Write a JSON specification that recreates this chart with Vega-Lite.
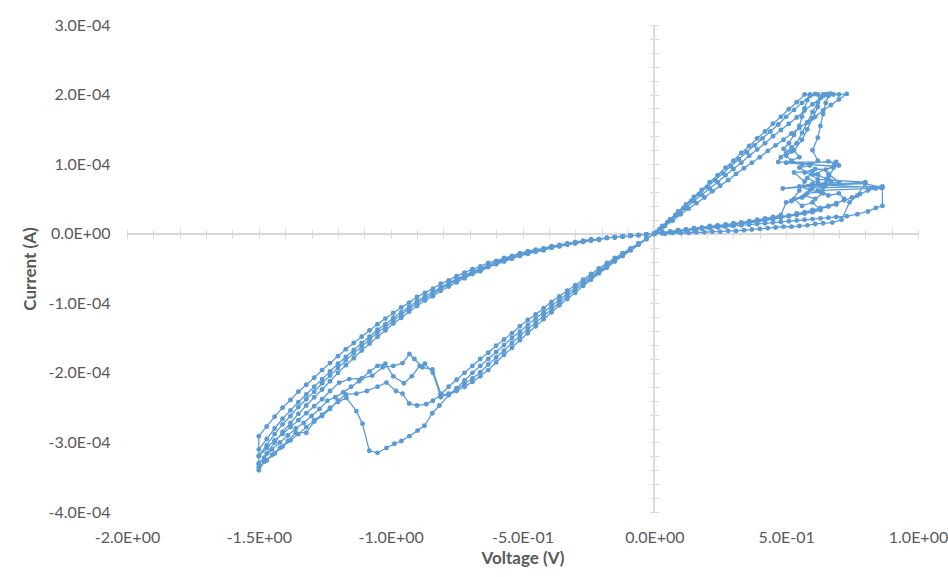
{
"$schema":"https://vega.github.io/schema/vega-lite/v6.json",
"width":791,"height":487,
"autosize":{"type":"none"},
"padding":{"left":127,"top":25,"right":30,"bottom":65},
"background":"#ffffff",
"config":{"view":{"stroke":null},"font":"Lato"},
"data":{"values":[
{"v":0,"i":0},{"v":0.03,"i":0.01e-4},{"v":0.06,"i":0.02e-4},{"v":0.09,"i":0.035e-4},{"v":0.12,"i":0.05e-4},{"v":0.15,"i":0.06e-4},{"v":0.18,"i":0.07e-4},{"v":0.21,"i":0.08e-4},{"v":0.24,"i":0.09e-4},{"v":0.27,"i":0.10e-4},{"v":0.30,"i":0.11e-4},{"v":0.33,"i":0.12e-4},{"v":0.36,"i":0.13e-4},{"v":0.39,"i":0.14e-4},{"v":0.42,"i":0.15e-4},{"v":0.45,"i":0.16e-4},{"v":0.48,"i":0.17e-4},{"v":0.51,"i":0.18e-4},{"v":0.54,"i":0.19e-4},{"v":0.57,"i":0.20e-4},{"v":0.60,"i":0.21e-4},{"v":0.63,"i":0.22e-4},{"v":0.66,"i":0.23e-4},{"v":0.69,"i":0.24e-4},{"v":0.73,"i":0.25e-4},{"v":0.77,"i":0.28e-4},{"v":0.81,"i":0.32e-4},{"v":0.84,"i":0.37e-4},{"v":0.865,"i":0.40e-4},{"v":0.865,"i":0.66e-4},{"v":0.80,"i":0.72e-4},{"v":0.77,"i":0.55e-4},{"v":0.74,"i":0.45e-4},{"v":0.71,"i":0.20e-4},{"v":0.675,"i":0.16e-4},{"v":0.64,"i":0.15e-4},{"v":0.61,"i":0.14e-4},{"v":0.58,"i":0.12e-4},{"v":0.55,"i":0.11e-4},{"v":0.52,"i":0.10e-4},{"v":0.49,"i":0.10e-4},{"v":0.46,"i":0.09e-4},{"v":0.43,"i":0.08e-4},{"v":0.40,"i":0.07e-4},{"v":0.37,"i":0.06e-4},{"v":0.34,"i":0.05e-4},{"v":0.31,"i":0.04e-4},{"v":0.28,"i":0.04e-4},{"v":0.25,"i":0.03e-4},{"v":0.22,"i":0.03e-4},{"v":0.19,"i":0.02e-4},{"v":0.16,"i":0.02e-4},{"v":0.13,"i":0.01e-4},{"v":0.10,"i":0.01e-4},{"v":0.07,"i":0.01e-4},{"v":0.04,"i":0},{"v":0,"i":0},
{"v":0.03,"i":0.01e-4},{"v":0.06,"i":0.03e-4},{"v":0.09,"i":0.05e-4},{"v":0.12,"i":0.06e-4},{"v":0.15,"i":0.07e-4},{"v":0.18,"i":0.08e-4},{"v":0.21,"i":0.10e-4},{"v":0.24,"i":0.11e-4},{"v":0.27,"i":0.13e-4},{"v":0.30,"i":0.14e-4},{"v":0.33,"i":0.16e-4},{"v":0.36,"i":0.17e-4},{"v":0.39,"i":0.19e-4},{"v":0.42,"i":0.21e-4},{"v":0.45,"i":0.23e-4},{"v":0.48,"i":0.25e-4},{"v":0.51,"i":0.26e-4},{"v":0.54,"i":0.28e-4},{"v":0.57,"i":0.30e-4},{"v":0.60,"i":0.33e-4},{"v":0.63,"i":0.36e-4},{"v":0.66,"i":0.39e-4},{"v":0.69,"i":0.42e-4},
{"v":0.72,"i":0.50e-4},{"v":0.70,"i":0.58e-4},{"v":0.66,"i":0.55e-4},{"v":0.62,"i":0.62e-4},{"v":0.86,"i":0.66e-4},{"v":0.64,"i":0.70e-4},{"v":0.66,"i":0.80e-4},{"v":0.60,"i":0.85e-4},{"v":0.68,"i":0.97e-4},{"v":0.50,"i":1.02e-4},{"v":0.55,"i":1.10e-4},{"v":0.53,"i":1.20e-4},{"v":0.56,"i":1.35e-4},{"v":0.58,"i":1.50e-4},{"v":0.60,"i":1.66e-4},{"v":0.62,"i":1.82e-4},{"v":0.63,"i":1.95e-4},{"v":0.64,"i":2.00e-4},{"v":0.66,"i":2.01e-4},{"v":0.65,"i":2.00e-4},
{"v":0.63,"i":1.95e-4},{"v":0.60,"i":1.86e-4},{"v":0.57,"i":1.77e-4},{"v":0.54,"i":1.67e-4},{"v":0.51,"i":1.58e-4},{"v":0.48,"i":1.49e-4},{"v":0.45,"i":1.40e-4},{"v":0.42,"i":1.30e-4},{"v":0.39,"i":1.21e-4},{"v":0.36,"i":1.12e-4},{"v":0.33,"i":1.02e-4},{"v":0.30,"i":0.93e-4},{"v":0.27,"i":0.84e-4},{"v":0.24,"i":0.74e-4},{"v":0.21,"i":0.65e-4},{"v":0.18,"i":0.56e-4},{"v":0.15,"i":0.47e-4},{"v":0.12,"i":0.37e-4},{"v":0.09,"i":0.28e-4},{"v":0.06,"i":0.19e-4},{"v":0.03,"i":0.09e-4},{"v":0,"i":0},
{"v":-0.03,"i":-0.07e-4},{"v":-0.06,"i":-0.14e-4},{"v":-0.09,"i":-0.22e-4},{"v":-0.12,"i":-0.29e-4},{"v":-0.15,"i":-0.37e-4},{"v":-0.18,"i":-0.45e-4},{"v":-0.21,"i":-0.53e-4},{"v":-0.24,"i":-0.61e-4},{"v":-0.27,"i":-0.69e-4},{"v":-0.30,"i":-0.78e-4},{"v":-0.33,"i":-0.86e-4},{"v":-0.36,"i":-0.95e-4},{"v":-0.39,"i":-1.04e-4},{"v":-0.42,"i":-1.13e-4},{"v":-0.45,"i":-1.22e-4},{"v":-0.48,"i":-1.31e-4},{"v":-0.51,"i":-1.41e-4},{"v":-0.54,"i":-1.50e-4},{"v":-0.57,"i":-1.60e-4},{"v":-0.60,"i":-1.70e-4},{"v":-0.63,"i":-1.80e-4},{"v":-0.66,"i":-1.90e-4},{"v":-0.69,"i":-2.00e-4},{"v":-0.72,"i":-2.11e-4},{"v":-0.75,"i":-2.22e-4},{"v":-0.78,"i":-2.32e-4},
{"v":-0.815,"i":-2.47e-4},{"v":-0.842,"i":-2.58e-4},{"v":-0.872,"i":-2.76e-4},{"v":-0.898,"i":-2.83e-4},{"v":-0.929,"i":-2.91e-4},{"v":-0.959,"i":-2.98e-4},{"v":-0.986,"i":-3.02e-4},{"v":-1.016,"i":-3.08e-4},{"v":-1.05,"i":-3.15e-4},{"v":-1.081,"i":-3.12e-4},{"v":-1.107,"i":-2.73e-4},{"v":-1.13,"i":-2.55e-4},{"v":-1.168,"i":-2.36e-4},{"v":-1.20,"i":-2.42e-4},{"v":-1.23,"i":-2.50e-4},{"v":-1.26,"i":-2.60e-4},{"v":-1.29,"i":-2.68e-4},{"v":-1.32,"i":-2.78e-4},{"v":-1.35,"i":-2.88e-4},{"v":-1.38,"i":-2.97e-4},{"v":-1.41,"i":-3.06e-4},{"v":-1.44,"i":-3.16e-4},{"v":-1.47,"i":-3.26e-4},{"v":-1.50,"i":-3.36e-4},
{"v":-1.50,"i":-3.10e-4},{"v":-1.47,"i":-2.95e-4},{"v":-1.44,"i":-2.80e-4},{"v":-1.41,"i":-2.66e-4},{"v":-1.38,"i":-2.54e-4},{"v":-1.35,"i":-2.42e-4},{"v":-1.32,"i":-2.31e-4},{"v":-1.29,"i":-2.20e-4},{"v":-1.26,"i":-2.09e-4},{"v":-1.23,"i":-1.98e-4},{"v":-1.20,"i":-1.87e-4},{"v":-1.17,"i":-1.77e-4},{"v":-1.14,"i":-1.67e-4},{"v":-1.11,"i":-1.57e-4},{"v":-1.08,"i":-1.48e-4},{"v":-1.05,"i":-1.38e-4},{"v":-1.02,"i":-1.30e-4},{"v":-0.99,"i":-1.21e-4},{"v":-0.96,"i":-1.13e-4},{"v":-0.93,"i":-1.05e-4},{"v":-0.90,"i":-0.97e-4},{"v":-0.87,"i":-0.90e-4},{"v":-0.84,"i":-0.84e-4},{"v":-0.81,"i":-0.77e-4},{"v":-0.78,"i":-0.71e-4},{"v":-0.75,"i":-0.65e-4},{"v":-0.72,"i":-0.60e-4},{"v":-0.69,"i":-0.54e-4},{"v":-0.66,"i":-0.50e-4},{"v":-0.63,"i":-0.45e-4},{"v":-0.60,"i":-0.41e-4},{"v":-0.57,"i":-0.37e-4},{"v":-0.54,"i":-0.34e-4},{"v":-0.51,"i":-0.30e-4},{"v":-0.48,"i":-0.27e-4},{"v":-0.45,"i":-0.24e-4},{"v":-0.42,"i":-0.22e-4},{"v":-0.39,"i":-0.19e-4},{"v":-0.36,"i":-0.17e-4},{"v":-0.33,"i":-0.15e-4},{"v":-0.30,"i":-0.13e-4},{"v":-0.27,"i":-0.11e-4},{"v":-0.24,"i":-0.09e-4},{"v":-0.21,"i":-0.08e-4},{"v":-0.18,"i":-0.06e-4},{"v":-0.15,"i":-0.05e-4},{"v":-0.12,"i":-0.04e-4},{"v":-0.09,"i":-0.03e-4},{"v":-0.06,"i":-0.02e-4},{"v":-0.03,"i":-0.01e-4},{"v":0,"i":0},
{"v":0.03,"i":0.02e-4},{"v":0.06,"i":0.03e-4},{"v":0.09,"i":0.05e-4},{"v":0.12,"i":0.06e-4},{"v":0.15,"i":0.08e-4},{"v":0.18,"i":0.09e-4},{"v":0.21,"i":0.11e-4},{"v":0.24,"i":0.12e-4},{"v":0.27,"i":0.13e-4},{"v":0.30,"i":0.15e-4},{"v":0.33,"i":0.16e-4},{"v":0.36,"i":0.18e-4},{"v":0.39,"i":0.20e-4},{"v":0.42,"i":0.22e-4},{"v":0.45,"i":0.24e-4},{"v":0.48,"i":0.27e-4},
{"v":0.50,"i":0.45e-4},{"v":0.52,"i":0.47e-4},{"v":0.55,"i":0.62e-4},{"v":0.57,"i":0.75e-4},{"v":0.53,"i":0.88e-4},{"v":0.60,"i":0.90e-4},{"v":0.58,"i":0.80e-4},{"v":0.62,"i":0.73e-4},{"v":0.80,"i":0.72e-4},{"v":0.65,"i":0.70e-4},{"v":0.68,"i":0.95e-4},{"v":0.69,"i":1.03e-4},{"v":0.47,"i":1.03e-4},{"v":0.48,"i":1.10e-4},{"v":0.50,"i":1.16e-4},{"v":0.52,"i":1.24e-4},{"v":0.54,"i":1.30e-4},{"v":0.56,"i":1.45e-4},{"v":0.58,"i":1.60e-4},{"v":0.60,"i":1.75e-4},{"v":0.62,"i":1.88e-4},{"v":0.64,"i":1.98e-4},{"v":0.67,"i":2.01e-4},{"v":0.70,"i":2.00e-4},{"v":0.73,"i":2.01e-4},
{"v":0.70,"i":1.93e-4},{"v":0.67,"i":1.85e-4},{"v":0.64,"i":1.77e-4},{"v":0.61,"i":1.68e-4},{"v":0.58,"i":1.60e-4},{"v":0.55,"i":1.52e-4},{"v":0.52,"i":1.44e-4},{"v":0.49,"i":1.35e-4},{"v":0.46,"i":1.27e-4},{"v":0.43,"i":1.19e-4},{"v":0.40,"i":1.10e-4},{"v":0.37,"i":1.02e-4},{"v":0.34,"i":0.94e-4},{"v":0.31,"i":0.86e-4},{"v":0.28,"i":0.77e-4},{"v":0.25,"i":0.69e-4},{"v":0.22,"i":0.61e-4},{"v":0.19,"i":0.52e-4},{"v":0.16,"i":0.44e-4},{"v":0.13,"i":0.36e-4},{"v":0.10,"i":0.28e-4},{"v":0.07,"i":0.19e-4},{"v":0.04,"i":0.11e-4},{"v":0.01,"i":0.03e-4},{"v":0,"i":0},
{"v":-0.03,"i":-0.08e-4},{"v":-0.06,"i":-0.16e-4},{"v":-0.09,"i":-0.24e-4},{"v":-0.12,"i":-0.32e-4},{"v":-0.15,"i":-0.40e-4},{"v":-0.18,"i":-0.49e-4},{"v":-0.21,"i":-0.57e-4},{"v":-0.24,"i":-0.66e-4},{"v":-0.27,"i":-0.75e-4},{"v":-0.30,"i":-0.85e-4},{"v":-0.33,"i":-0.94e-4},{"v":-0.36,"i":-1.03e-4},{"v":-0.39,"i":-1.13e-4},{"v":-0.42,"i":-1.23e-4},{"v":-0.45,"i":-1.33e-4},{"v":-0.48,"i":-1.43e-4},{"v":-0.51,"i":-1.53e-4},{"v":-0.54,"i":-1.64e-4},{"v":-0.57,"i":-1.74e-4},{"v":-0.60,"i":-1.85e-4},{"v":-0.63,"i":-1.96e-4},{"v":-0.66,"i":-2.05e-4},{"v":-0.69,"i":-2.13e-4},{"v":-0.72,"i":-2.20e-4},{"v":-0.75,"i":-2.26e-4},{"v":-0.78,"i":-2.32e-4},{"v":-0.81,"i":-2.30e-4},
{"v":-0.842,"i":-1.95e-4},{"v":-0.88,"i":-1.92e-4},{"v":-0.91,"i":-1.80e-4},{"v":-0.929,"i":-1.73e-4},{"v":-0.955,"i":-1.86e-4},{"v":-0.99,"i":-1.90e-4},{"v":-1.03,"i":-1.92e-4},{"v":-1.07,"i":-2.04e-4},{"v":-1.11,"i":-2.08e-4},{"v":-1.157,"i":-2.09e-4},{"v":-1.195,"i":-2.14e-4},{"v":-1.23,"i":-2.26e-4},{"v":-1.26,"i":-2.38e-4},{"v":-1.29,"i":-2.48e-4},{"v":-1.32,"i":-2.58e-4},{"v":-1.35,"i":-2.68e-4},{"v":-1.38,"i":-2.78e-4},{"v":-1.41,"i":-2.88e-4},{"v":-1.44,"i":-2.97e-4},{"v":-1.47,"i":-3.08e-4},{"v":-1.50,"i":-3.20e-4},
{"v":-1.50,"i":-3.32e-4},{"v":-1.47,"i":-3.16e-4},{"v":-1.44,"i":-3.00e-4},{"v":-1.41,"i":-2.85e-4},{"v":-1.38,"i":-2.72e-4},{"v":-1.35,"i":-2.59e-4},{"v":-1.32,"i":-2.47e-4},{"v":-1.29,"i":-2.35e-4},{"v":-1.26,"i":-2.24e-4},{"v":-1.23,"i":-2.12e-4},{"v":-1.20,"i":-2.00e-4},{"v":-1.17,"i":-1.89e-4},{"v":-1.14,"i":-1.79e-4},{"v":-1.11,"i":-1.68e-4},{"v":-1.08,"i":-1.58e-4},{"v":-1.05,"i":-1.48e-4},{"v":-1.02,"i":-1.39e-4},{"v":-0.99,"i":-1.29e-4},{"v":-0.96,"i":-1.21e-4},{"v":-0.93,"i":-1.12e-4},{"v":-0.90,"i":-1.04e-4},{"v":-0.87,"i":-0.96e-4},{"v":-0.84,"i":-0.90e-4},{"v":-0.81,"i":-0.82e-4},{"v":-0.78,"i":-0.76e-4},{"v":-0.75,"i":-0.70e-4},{"v":-0.72,"i":-0.64e-4},{"v":-0.69,"i":-0.58e-4},{"v":-0.66,"i":-0.54e-4},{"v":-0.63,"i":-0.48e-4},{"v":-0.60,"i":-0.44e-4},{"v":-0.57,"i":-0.40e-4},{"v":-0.54,"i":-0.36e-4},{"v":-0.51,"i":-0.32e-4},{"v":-0.48,"i":-0.29e-4},{"v":-0.45,"i":-0.26e-4},{"v":-0.42,"i":-0.24e-4},{"v":-0.39,"i":-0.20e-4},{"v":-0.36,"i":-0.18e-4},{"v":-0.33,"i":-0.16e-4},{"v":-0.30,"i":-0.14e-4},{"v":-0.27,"i":-0.12e-4},{"v":-0.24,"i":-0.10e-4},{"v":-0.21,"i":-0.09e-4},{"v":-0.18,"i":-0.06e-4},{"v":-0.15,"i":-0.05e-4},{"v":-0.12,"i":-0.04e-4},{"v":-0.09,"i":-0.03e-4},{"v":-0.06,"i":-0.02e-4},{"v":-0.03,"i":-0.01e-4},{"v":0,"i":0},
{"v":0.03,"i":0.01e-4},{"v":0.06,"i":0.02e-4},{"v":0.09,"i":0.04e-4},{"v":0.12,"i":0.05e-4},{"v":0.15,"i":0.06e-4},{"v":0.18,"i":0.08e-4},{"v":0.21,"i":0.09e-4},{"v":0.24,"i":0.11e-4},{"v":0.27,"i":0.12e-4},{"v":0.30,"i":0.14e-4},{"v":0.33,"i":0.15e-4},{"v":0.36,"i":0.17e-4},{"v":0.39,"i":0.18e-4},{"v":0.42,"i":0.20e-4},{"v":0.45,"i":0.22e-4},{"v":0.48,"i":0.24e-4},{"v":0.51,"i":0.26e-4},{"v":0.54,"i":0.29e-4},{"v":0.57,"i":0.31e-4},{"v":0.60,"i":0.34e-4},{"v":0.63,"i":0.37e-4},{"v":0.66,"i":0.40e-4},{"v":0.69,"i":0.44e-4},{"v":0.72,"i":0.48e-4},{"v":0.75,"i":0.52e-4},{"v":0.78,"i":0.57e-4},{"v":0.81,"i":0.62e-4},{"v":0.84,"i":0.65e-4},{"v":0.865,"i":0.68e-4},
{"v":0.60,"i":0.66e-4},{"v":0.56,"i":0.52e-4},{"v":0.52,"i":0.47e-4},{"v":0.58,"i":0.58e-4},{"v":0.63,"i":0.60e-4},{"v":0.66,"i":0.86e-4},{"v":0.70,"i":0.74e-4},{"v":0.487,"i":0.65e-4},{"v":0.80,"i":0.74e-4},{"v":0.62,"i":0.78e-4},{"v":0.55,"i":0.95e-4},{"v":0.59,"i":0.98e-4},{"v":0.62,"i":1.05e-4},{"v":0.60,"i":1.20e-4},{"v":0.62,"i":1.38e-4},{"v":0.63,"i":1.55e-4},{"v":0.64,"i":1.72e-4},{"v":0.65,"i":1.88e-4},{"v":0.66,"i":1.98e-4},{"v":0.67,"i":2.01e-4},{"v":0.68,"i":2.00e-4},{"v":0.66,"i":2.00e-4},
{"v":0.59,"i":1.98e-4},{"v":0.56,"i":1.88e-4},{"v":0.53,"i":1.78e-4},{"v":0.50,"i":1.68e-4},{"v":0.47,"i":1.57e-4},{"v":0.44,"i":1.47e-4},{"v":0.41,"i":1.37e-4},{"v":0.38,"i":1.27e-4},{"v":0.35,"i":1.17e-4},{"v":0.32,"i":1.07e-4},{"v":0.29,"i":0.97e-4},{"v":0.26,"i":0.87e-4},{"v":0.23,"i":0.77e-4},{"v":0.20,"i":0.67e-4},{"v":0.17,"i":0.57e-4},{"v":0.14,"i":0.47e-4},{"v":0.11,"i":0.37e-4},{"v":0.08,"i":0.27e-4},{"v":0.05,"i":0.17e-4},{"v":0.02,"i":0.07e-4},{"v":0,"i":0},
{"v":-0.03,"i":-0.07e-4},{"v":-0.06,"i":-0.14e-4},{"v":-0.09,"i":-0.21e-4},{"v":-0.12,"i":-0.28e-4},{"v":-0.15,"i":-0.35e-4},{"v":-0.18,"i":-0.42e-4},{"v":-0.21,"i":-0.50e-4},{"v":-0.24,"i":-0.58e-4},{"v":-0.27,"i":-0.66e-4},{"v":-0.30,"i":-0.74e-4},{"v":-0.33,"i":-0.82e-4},{"v":-0.36,"i":-0.90e-4},{"v":-0.39,"i":-0.98e-4},{"v":-0.42,"i":-1.07e-4},{"v":-0.45,"i":-1.16e-4},{"v":-0.48,"i":-1.24e-4},{"v":-0.51,"i":-1.33e-4},{"v":-0.54,"i":-1.43e-4},{"v":-0.57,"i":-1.52e-4},{"v":-0.60,"i":-1.61e-4},{"v":-0.63,"i":-1.71e-4},{"v":-0.66,"i":-1.80e-4},{"v":-0.69,"i":-1.90e-4},{"v":-0.72,"i":-2.00e-4},{"v":-0.75,"i":-2.10e-4},{"v":-0.78,"i":-2.20e-4},{"v":-0.81,"i":-2.31e-4},{"v":-0.84,"i":-2.40e-4},
{"v":-0.865,"i":-2.45e-4},{"v":-0.90,"i":-2.47e-4},{"v":-0.93,"i":-2.44e-4},{"v":-0.955,"i":-2.30e-4},{"v":-0.98,"i":-2.26e-4},{"v":-1.016,"i":-2.14e-4},{"v":-1.05,"i":-2.20e-4},{"v":-1.09,"i":-2.26e-4},{"v":-1.13,"i":-2.30e-4},{"v":-1.17,"i":-2.31e-4},{"v":-1.20,"i":-2.40e-4},{"v":-1.23,"i":-2.52e-4},{"v":-1.26,"i":-2.62e-4},{"v":-1.29,"i":-2.70e-4},{"v":-1.32,"i":-2.86e-4},{"v":-1.36,"i":-2.86e-4},{"v":-1.39,"i":-2.98e-4},{"v":-1.42,"i":-3.08e-4},{"v":-1.45,"i":-3.18e-4},{"v":-1.48,"i":-3.28e-4},{"v":-1.50,"i":-3.40e-4},
{"v":-1.50,"i":-2.91e-4},{"v":-1.47,"i":-2.77e-4},{"v":-1.44,"i":-2.63e-4},{"v":-1.41,"i":-2.50e-4},{"v":-1.38,"i":-2.39e-4},{"v":-1.35,"i":-2.27e-4},{"v":-1.32,"i":-2.17e-4},{"v":-1.29,"i":-2.07e-4},{"v":-1.26,"i":-1.96e-4},{"v":-1.23,"i":-1.86e-4},{"v":-1.20,"i":-1.76e-4},{"v":-1.17,"i":-1.66e-4},{"v":-1.14,"i":-1.57e-4},{"v":-1.11,"i":-1.48e-4},{"v":-1.08,"i":-1.39e-4},{"v":-1.05,"i":-1.30e-4},{"v":-1.02,"i":-1.22e-4},{"v":-0.99,"i":-1.14e-4},{"v":-0.96,"i":-1.06e-4},{"v":-0.93,"i":-0.99e-4},{"v":-0.90,"i":-0.91e-4},{"v":-0.87,"i":-0.85e-4},{"v":-0.84,"i":-0.79e-4},{"v":-0.81,"i":-0.72e-4},{"v":-0.78,"i":-0.67e-4},{"v":-0.75,"i":-0.61e-4},{"v":-0.72,"i":-0.56e-4},{"v":-0.69,"i":-0.51e-4},{"v":-0.66,"i":-0.47e-4},{"v":-0.63,"i":-0.42e-4},{"v":-0.60,"i":-0.39e-4},{"v":-0.57,"i":-0.35e-4},{"v":-0.54,"i":-0.32e-4},{"v":-0.51,"i":-0.28e-4},{"v":-0.48,"i":-0.25e-4},{"v":-0.45,"i":-0.23e-4},{"v":-0.42,"i":-0.21e-4},{"v":-0.39,"i":-0.18e-4},{"v":-0.36,"i":-0.16e-4},{"v":-0.33,"i":-0.14e-4},{"v":-0.30,"i":-0.12e-4},{"v":-0.27,"i":-0.10e-4},{"v":-0.24,"i":-0.08e-4},{"v":-0.21,"i":-0.08e-4},{"v":-0.18,"i":-0.06e-4},{"v":-0.15,"i":-0.05e-4},{"v":-0.12,"i":-0.04e-4},{"v":-0.09,"i":-0.03e-4},{"v":-0.06,"i":-0.02e-4},{"v":-0.03,"i":-0.01e-4},{"v":0,"i":0},
{"v":0.03,"i":0.01e-4},{"v":0.06,"i":0.02e-4},{"v":0.09,"i":0.04e-4},{"v":0.12,"i":0.05e-4},{"v":0.15,"i":0.07e-4},{"v":0.18,"i":0.08e-4},{"v":0.21,"i":0.09e-4},{"v":0.24,"i":0.10e-4},{"v":0.27,"i":0.12e-4},{"v":0.30,"i":0.13e-4},{"v":0.33,"i":0.14e-4},{"v":0.36,"i":0.16e-4},{"v":0.39,"i":0.17e-4},{"v":0.42,"i":0.19e-4},{"v":0.45,"i":0.21e-4},{"v":0.48,"i":0.23e-4},{"v":0.51,"i":0.25e-4},{"v":0.54,"i":0.27e-4},{"v":0.57,"i":0.29e-4},{"v":0.60,"i":0.31e-4},{"v":0.63,"i":0.34e-4},
{"v":0.60,"i":0.45e-4},{"v":0.56,"i":0.40e-4},{"v":0.53,"i":0.50e-4},{"v":0.57,"i":0.55e-4},{"v":0.61,"i":0.50e-4},{"v":0.64,"i":0.58e-4},{"v":0.59,"i":0.63e-4},{"v":0.55,"i":0.68e-4},{"v":0.60,"i":0.72e-4},{"v":0.64,"i":0.66e-4},{"v":0.67,"i":0.75e-4},{"v":0.62,"i":0.85e-4},{"v":0.57,"i":0.88e-4},{"v":0.61,"i":0.93e-4},{"v":0.65,"i":0.92e-4},{"v":0.70,"i":0.98e-4},{"v":0.66,"i":1.04e-4},{"v":0.56,"i":1.00e-4},{"v":0.52,"i":1.05e-4},{"v":0.50,"i":1.12e-4},{"v":0.52,"i":1.18e-4},{"v":0.49,"i":1.22e-4},{"v":0.51,"i":1.30e-4},{"v":0.53,"i":1.42e-4},{"v":0.55,"i":1.55e-4},{"v":0.56,"i":1.68e-4},{"v":0.57,"i":1.80e-4},{"v":0.58,"i":1.92e-4},{"v":0.59,"i":2.00e-4},{"v":0.61,"i":2.01e-4},{"v":0.62,"i":2.00e-4},
{"v":0.57,"i":2.00e-4},{"v":0.54,"i":1.89e-4},{"v":0.51,"i":1.79e-4},{"v":0.48,"i":1.68e-4},{"v":0.45,"i":1.58e-4},{"v":0.42,"i":1.47e-4},{"v":0.39,"i":1.37e-4},{"v":0.36,"i":1.26e-4},{"v":0.33,"i":1.16e-4},{"v":0.30,"i":1.05e-4},{"v":0.27,"i":0.95e-4},{"v":0.24,"i":0.84e-4},{"v":0.21,"i":0.74e-4},{"v":0.18,"i":0.63e-4},{"v":0.15,"i":0.53e-4},{"v":0.12,"i":0.42e-4},{"v":0.09,"i":0.32e-4},{"v":0.06,"i":0.21e-4},{"v":0.03,"i":0.11e-4},{"v":0,"i":0},
{"v":-0.03,"i":-0.07e-4},{"v":-0.06,"i":-0.15e-4},{"v":-0.09,"i":-0.23e-4},{"v":-0.12,"i":-0.31e-4},{"v":-0.15,"i":-0.39e-4},{"v":-0.18,"i":-0.47e-4},{"v":-0.21,"i":-0.55e-4},{"v":-0.24,"i":-0.64e-4},{"v":-0.27,"i":-0.72e-4},{"v":-0.30,"i":-0.81e-4},{"v":-0.33,"i":-0.90e-4},{"v":-0.36,"i":-0.99e-4},{"v":-0.39,"i":-1.09e-4},{"v":-0.42,"i":-1.18e-4},{"v":-0.45,"i":-1.28e-4},{"v":-0.48,"i":-1.37e-4},{"v":-0.51,"i":-1.47e-4},{"v":-0.54,"i":-1.57e-4},{"v":-0.57,"i":-1.68e-4},{"v":-0.60,"i":-1.78e-4},{"v":-0.63,"i":-1.88e-4},{"v":-0.66,"i":-1.99e-4},{"v":-0.69,"i":-2.08e-4},{"v":-0.72,"i":-2.16e-4},{"v":-0.75,"i":-2.24e-4},{"v":-0.78,"i":-2.30e-4},
{"v":-0.81,"i":-2.35e-4},{"v":-0.84,"i":-2.00e-4},{"v":-0.87,"i":-1.87e-4},{"v":-0.89,"i":-1.90e-4},{"v":-0.92,"i":-2.05e-4},{"v":-0.95,"i":-2.15e-4},{"v":-0.99,"i":-2.05e-4},{"v":-1.02,"i":-1.87e-4},{"v":-1.05,"i":-1.90e-4},{"v":-1.08,"i":-1.98e-4},{"v":-1.12,"i":-2.12e-4},{"v":-1.15,"i":-2.20e-4},{"v":-1.18,"i":-2.28e-4},{"v":-1.21,"i":-2.35e-4},{"v":-1.24,"i":-2.40e-4},{"v":-1.27,"i":-2.52e-4},{"v":-1.30,"i":-2.62e-4},{"v":-1.33,"i":-2.72e-4},{"v":-1.36,"i":-2.80e-4},{"v":-1.39,"i":-2.90e-4},{"v":-1.42,"i":-3.00e-4},{"v":-1.45,"i":-3.10e-4},{"v":-1.48,"i":-3.22e-4},{"v":-1.50,"i":-3.30e-4},
{"v":-1.50,"i":-3.19e-4},{"v":-1.47,"i":-3.04e-4},{"v":-1.44,"i":-2.88e-4},{"v":-1.41,"i":-2.74e-4},{"v":-1.38,"i":-2.62e-4},{"v":-1.35,"i":-2.49e-4},{"v":-1.32,"i":-2.38e-4},{"v":-1.29,"i":-2.27e-4},{"v":-1.26,"i":-2.15e-4},{"v":-1.23,"i":-2.04e-4},{"v":-1.20,"i":-1.93e-4},{"v":-1.17,"i":-1.82e-4},{"v":-1.14,"i":-1.72e-4},{"v":-1.11,"i":-1.62e-4},{"v":-1.08,"i":-1.52e-4},{"v":-1.05,"i":-1.42e-4},{"v":-1.02,"i":-1.34e-4},{"v":-0.99,"i":-1.25e-4},{"v":-0.96,"i":-1.16e-4},{"v":-0.93,"i":-1.08e-4},{"v":-0.90,"i":-1.00e-4},{"v":-0.87,"i":-0.93e-4},{"v":-0.84,"i":-0.87e-4},{"v":-0.81,"i":-0.79e-4},{"v":-0.78,"i":-0.73e-4},{"v":-0.75,"i":-0.67e-4},{"v":-0.72,"i":-0.62e-4},{"v":-0.69,"i":-0.56e-4},{"v":-0.66,"i":-0.52e-4},{"v":-0.63,"i":-0.46e-4},{"v":-0.60,"i":-0.42e-4},{"v":-0.57,"i":-0.38e-4},{"v":-0.54,"i":-0.35e-4},{"v":-0.51,"i":-0.31e-4},{"v":-0.48,"i":-0.28e-4},{"v":-0.45,"i":-0.25e-4},{"v":-0.42,"i":-0.23e-4},{"v":-0.39,"i":-0.20e-4},{"v":-0.36,"i":-0.18e-4},{"v":-0.33,"i":-0.15e-4},{"v":-0.30,"i":-0.13e-4},{"v":-0.27,"i":-0.11e-4},{"v":-0.24,"i":-0.09e-4},{"v":-0.21,"i":-0.08e-4},{"v":-0.18,"i":-0.06e-4},{"v":-0.15,"i":-0.05e-4},{"v":-0.12,"i":-0.04e-4},{"v":-0.09,"i":-0.03e-4},{"v":-0.06,"i":-0.02e-4},{"v":-0.03,"i":-0.01e-4},{"v":0,"i":0}
]},
"resolve":{"axis":{"x":"independent","y":"independent"}},
"layer":[
{"mark":{"type":"rule","color":"#d9d9d9","strokeWidth":1},
 "encoding":{
  "y":{"datum":0,"type":"quantitative","scale":{"domain":[-0.0004,0.0003],"nice":false},"axis":null},
  "x":{"datum":-2,"type":"quantitative","scale":{"domain":[-2,1],"nice":false},"axis":{"orient":"bottom","offset":-282.8,"domain":false,"labels":false,"grid":false,"ticks":true,"tickSize":9,"tickColor":"#d9d9d9","tickWidth":1,"title":null,"values":[-2,-1.9,-1.8,-1.7,-1.6,-1.5,-1.4,-1.3,-1.2,-1.1,-1,-0.9,-0.8,-0.7,-0.6,-0.5,-0.4,-0.3,-0.2,-0.1,0,0.1,0.2,0.3,0.4,0.5,0.6,0.7,0.8,0.9,1]}},
  "x2":{"datum":1}
 }},
{"mark":{"type":"rule","color":"#d9d9d9","strokeWidth":1},
 "encoding":{
  "x":{"datum":0,"type":"quantitative","axis":null},
  "y":{"datum":-0.0004,"type":"quantitative","axis":{"orient":"left","offset":-531.8,"domain":false,"labels":false,"grid":false,"ticks":true,"tickSize":9,"tickColor":"#d9d9d9","tickWidth":1,"title":null,"values":[-0.0004,-0.00038,-0.00036,-0.00034,-0.00032,-0.0003,-0.00028,-0.00026,-0.00024,-0.00022,-0.0002,-0.00018,-0.00016,-0.00014,-0.00012,-0.0001,-0.00008,-0.00006,-0.00004,-0.00002,0,0.00002,0.00004,0.00006,0.00008,0.0001,0.00012,0.00014,0.00016,0.00018,0.0002,0.00022,0.00024,0.00026,0.00028,0.0003]}},
  "y2":{"datum":0.0003}
 }},
{"mark":{"type":"line","color":"#5B9BD5","strokeWidth":1.3,"point":{"filled":true,"size":24,"color":"#5B9BD5"}},
 "encoding":{
  "x":{"field":"v","type":"quantitative","axis":{"orient":"bottom","domain":false,"ticks":false,"grid":false,"values":[-2,-1.5,-1,-0.5,0,0.5,1],"labelExpr":"datum.value == 0 ? '0.0E+00' : (datum.value < 0 ? '-' : '') + (abs(datum.value) >= 1 ? format(abs(datum.value), '.1f') + 'E+00' : format(abs(datum.value) * 10, '.1f') + 'E-01')","labelFontSize":16,"labelColor":"#595959","labelPadding":17,"labelFlush":false,"labelOverlap":false,"title":"Voltage (V)","titleFontSize":17,"titleFontWeight":"bold","titleColor":"#595959","titlePadding":5}},
  "y":{"field":"i","type":"quantitative","axis":{"orient":"left","domain":false,"ticks":false,"grid":false,"values":[-0.0004,-0.0003,-0.0002,-0.0001,0,0.0001,0.0002,0.0003],"labelExpr":"datum.value == 0 ? '0.0E+00' : (datum.value < 0 ? '-' : '') + format(abs(datum.value) * 10000, '.1f') + 'E-04'","labelFontSize":16,"labelColor":"#595959","labelPadding":17,"labelFlush":false,"labelOverlap":false,"title":"Current (A)","titleFontSize":17,"titleFontWeight":"bold","titleColor":"#595959","titlePadding":8}},
  "order":{"value":null}
 }}
]
}
